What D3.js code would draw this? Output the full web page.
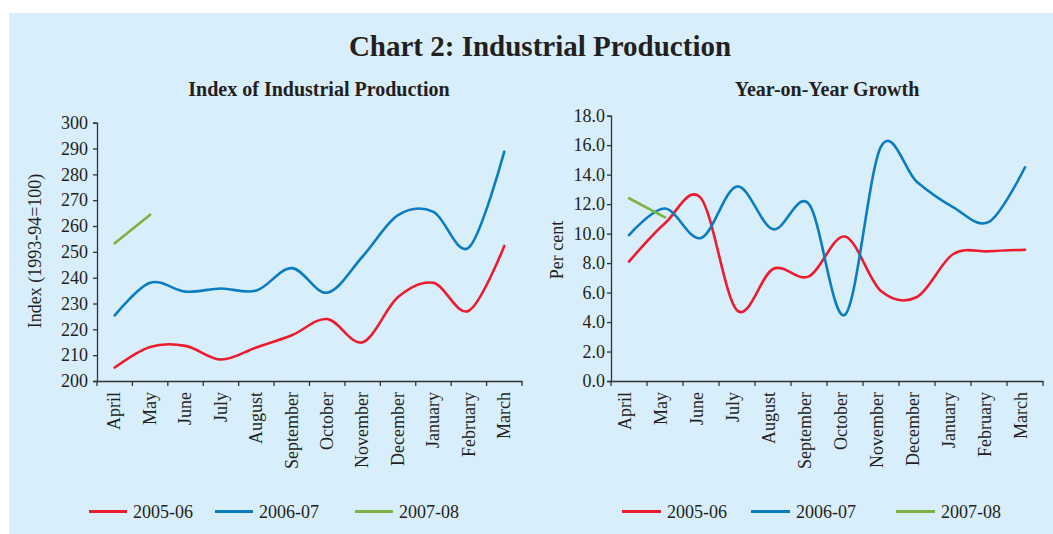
<!DOCTYPE html>
<html><head><meta charset="utf-8">
<script src="https://cdn.jsdelivr.net/npm/d3@7"></script>
<style>
html,body{margin:0;padding:0;background:#fff;}
svg{display:block;}
text{font-family:"Liberation Serif","Times New Roman",serif;fill:#231f20;}
</style></head>
<body>
<svg id="c" width="1053" height="534"></svg>
<script>
const months = ["April","May","June","July","August","September","October","November","December","January","February","March"];
const seriesNames = ["2005-06","2006-07","2007-08"];
const seriesColors = ["#ec1c2e","#0a7dc2","#7cb342"];

// Index of Industrial Production (1993-94=100)
const iip2005 = [205.2, 213.2, 213.6, 208.3, 213.0, 217.7, 224.0, 215.0, 232.5, 238.0, 227.2, 252.3];
const iip2006 = [225.4, 238.0, 234.6, 235.8, 235.0, 243.7, 234.2, 248.2, 264.2, 265.5, 251.7, 288.8];
const iip2007 = [253.3, 264.4];
const iipTicks = [200,210,220,230,240,250,260,270,280,290,300];

// Year-on-Year Growth (per cent)
const yoy2005 = [8.1, 10.7, 12.4, 4.8, 7.6, 7.1, 9.8, 6.1, 5.7, 8.6, 8.8, 8.9];
const yoy2006 = [9.9, 11.7, 9.7, 13.2, 10.3, 12.0, 4.5, 15.9, 13.5, 11.8, 10.8, 14.5];
const yoy2007 = [12.4, 11.1];
const yoyTicks = [0,2,4,6,8,10,12,14,16,18];

const svg = d3.select("#c");
svg.append("rect").attr("x",9).attr("y",13).attr("width",1044).attr("height",521).attr("fill","#d9eefb");

svg.append("text").attr("x",540).attr("y",56).attr("text-anchor","middle")
  .style("font-size","29px").style("font-weight","bold").text("Chart 2: Industrial Production");

function panel(cfg){
  const g = svg.append("g");
  const x = d3.scaleBand().domain(months).range([cfg.x0, cfg.x1]).padding(0);
  const y = d3.scaleLinear().domain(cfg.domain).range([381, cfg.yTop]);

  g.append("text").attr("x",cfg.titleX).attr("y",96).attr("text-anchor","middle")
    .style("font-size","20px").style("font-weight","bold").text(cfg.title);

  // y axis
  const ya = g.append("g").attr("transform",`translate(${cfg.x0},0)`)
    .call(d3.axisLeft(y).tickValues(cfg.ticks).tickSize(4).tickPadding(cfg.tickPad).tickFormat(cfg.fmt));
  ya.select(".domain").attr("stroke","#333").attr("stroke-width",1.3);
  ya.selectAll(".tick line").attr("stroke","#333").attr("stroke-width",1.3);
  ya.selectAll(".tick text").style("font-size","18px").style("font-family","Liberation Serif").attr("fill","#231f20");

  // x axis: labels
  const xa = g.append("g").attr("transform","translate(0,381)")
    .call(d3.axisBottom(x).tickSize(0).tickPadding(0));
  xa.select(".domain").attr("stroke","#333").attr("stroke-width",1.3);
  xa.selectAll(".tick text")
    .style("font-size","18px").style("font-family","Liberation Serif").attr("fill","#231f20")
    .attr("text-anchor","end").attr("transform",`translate(${cfg.lblDx},0) rotate(-90)`)
    .attr("x",-11).attr("y",0).attr("dy","0.32em");
  // x boundary ticks
  const bounds = months.map(m => x(m)).concat([x.range()[1]]);
  g.append("g").selectAll("line").data(bounds).join("line")
    .attr("x1",d=>d).attr("x2",d=>d).attr("y1",381).attr("y2",386)
    .attr("stroke","#333").attr("stroke-width",1.3);

  // y label
  g.append("text").attr("transform",`translate(${cfg.ylabX},${cfg.ylabY}) rotate(-90)`)
    .attr("text-anchor","middle").attr("dy","0.35em").style("font-size","18px").text(cfg.ylabel);

  const line = d3.line()
    .x((d,i)=>x(months[i]) + x.bandwidth()/2)
    .y(d=>y(d))
    .curve(d3.curveCardinal.tension(0));
  cfg.series.forEach((s,i)=>{
    g.append("path").datum(s).attr("d",line).attr("fill","none")
      .attr("stroke",seriesColors[i]).attr("stroke-width",2.6).attr("stroke-linecap","round");
  });

  // legend
  const lg = g.append("g");
  seriesNames.forEach((n,i)=>{
    const lx = cfg.legX[i];
    lg.append("line").attr("x1",lx).attr("x2",lx+cfg.legLen).attr("y1",511.5).attr("y2",511.5)
      .attr("stroke",seriesColors[i]).attr("stroke-width",3);
    lg.append("text").attr("x",lx+cfg.legLen+6).attr("y",511.5).attr("dy","0.35em")
      .style("font-size","18px").text(n);
  });
}

panel({
  x0:97, x1:522, domain:[200,300], yTop:122.7, ticks:iipTicks, fmt:d3.format("d"), tickPad:5,
  title:"Index of Industrial Production", titleX:319,
  ylabel:"Index (1993-94=100)", ylabX:35, ylabY:251, lblDx:0,
  series:[iip2005, iip2006, iip2007],
  legX:[89,215,355], legLen:38
});
panel({
  x0:611, x1:1043, domain:[0,18], yTop:115.7, ticks:yoyTicks, fmt:d3.format(".1f"), tickPad:2,
  title:"Year-on-Year Growth", titleX:827,
  ylabel:"Per cent", ylabX:557, ylabY:250, lblDx:-4,
  series:[yoy2005, yoy2006, yoy2007],
  legX:[622,751,896], legLen:39
});
</script>
</body></html>
